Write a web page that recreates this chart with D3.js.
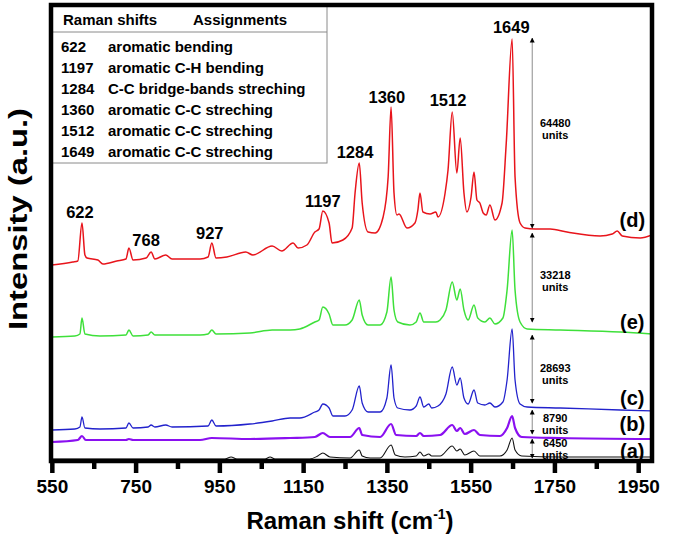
<!DOCTYPE html>
<html><head><meta charset="utf-8">
<script src="https://cdn.jsdelivr.net/npm/d3@7"></script>
<style>
body{margin:0;background:#fff}
svg{display:block}
text{font-family:"Liberation Sans",Arial,Helvetica,sans-serif;font-weight:bold;fill:#000}
</style>
</head><body>
<svg id="chart" width="675" height="538"></svg>
<script>
// ---------- data ----------
const majorTicks = [550, 750, 950, 1150, 1350, 1550, 1750, 1950];
const minorTicks = [650, 850, 1050, 1250, 1450, 1650, 1850];

const seriesNames  = ["(d)", "(e)", "(c)", "(b)", "(a)"];
const seriesColors = ["#e8141b", "#3ee03a", "#2222cc", "#8a10f0", "#111111"];
const seriesWidths = [1.5, 1.5, 1.3, 2.2, 1.1];

// [Raman shift (cm-1), intensity (a.u., stacked as plotted)]
const specD = [[550,196],[600,199],[612,200],[622,238],[629,206],[634,203],[660,201],[672,197],[705,200],[727,202],[734,213],[744,201],[775,203],[787,209],[796,202],[822,206],[837,202],[904,202],[923,204],[932,218],[942,203],[968,204],[1013,209],[1030,206],[1076,215],[1099,210],[1126,218],[1138,213],[1159,216],[1178,229],[1188,232],[1197,250],[1212,238],[1219,218],[1245,221],[1267,233],[1274,268],[1284,298],[1291,258],[1305,229],[1322,228],[1341,244],[1353,284],[1360,354],[1367,268],[1374,246],[1379,247],[1398,233],[1417,238],[1424,251],[1429,268],[1436,249],[1453,247],[1467,249],[1472,244],[1489,268],[1496,291],[1506,349],[1517,288],[1525,323],[1534,268],[1541,249],[1551,264],[1558,289],[1565,261],[1572,258],[1580,248],[1587,246],[1596,256],[1608,241],[1625,258],[1635,318],[1649,422],[1656,284],[1668,238],[1680,233],[1704,232],[1740,232],[1780,229],[1859,225],[1888,227],[1900,230],[1912,225],[1955,223],[1983,226]];

const specE = [[550,124],[605,125],[617,127],[622,143],[629,127],[665,125],[727,126],[734,131],[744,125],[780,126],[787,129],[796,126],[904,126],[923,127],[932,131],[942,127],[1023,128],[1076,131],[1119,131],[1142,132],[1178,139],[1188,141],[1197,154],[1212,147],[1221,136],[1250,136],[1267,141],[1284,161],[1291,146],[1305,136],[1334,136],[1350,149],[1360,184],[1367,151],[1376,139],[1405,136],[1420,139],[1429,148],[1438,139],[1467,139],[1477,141],[1491,151],[1506,179],[1517,161],[1525,172],[1534,151],[1544,141],[1558,156],[1567,143],[1584,139],[1596,143],[1608,137],[1627,143],[1637,171],[1649,231],[1656,171],[1668,139],[1685,132],[1764,131],[1907,129],[1983,127]];

const specC = [[550,31],[605,32],[617,34],[622,44],[629,33],[665,32],[727,33],[734,38],[744,33],[780,34],[787,36],[796,34],[822,36],[837,34],[923,35],[932,41],[942,35],[1023,37],[1076,40],[1119,43],[1142,43],[1178,49],[1188,51],[1197,57],[1212,53],[1221,45],[1250,45],[1267,51],[1284,75],[1291,58],[1305,49],[1334,49],[1350,63],[1360,96],[1367,63],[1376,53],[1405,51],[1420,55],[1429,64],[1438,54],[1450,57],[1457,53],[1472,55],[1491,67],[1506,94],[1517,76],[1525,83],[1534,63],[1544,57],[1558,71],[1567,58],[1584,56],[1596,58],[1608,54],[1627,59],[1637,81],[1649,132],[1656,81],[1668,57],[1685,54],[1764,53],[1907,51],[1983,50]];

const specB = [[550,19],[612,21],[622,25],[631,21],[727,21],[734,22],[744,21],[904,21],[932,23],[1023,22],[1119,23],[1178,24],[1197,28],[1214,24],[1262,24],[1284,33],[1291,26],[1334,24],[1360,37],[1372,26],[1420,25],[1429,28],[1438,25],[1477,26],[1506,36],[1517,30],[1525,33],[1536,27],[1558,31],[1572,26],[1620,25],[1637,33],[1649,45],[1656,33],[1672,24],[1764,23],[1983,22]];

const specA = [[550,2],[904,2],[963,2],[978,4],[992,2],[1059,2],[1071,4],[1083,2],[1166,2],[1185,5],[1197,8],[1214,4],[1262,3],[1284,11],[1291,5],[1310,3],[1334,3],[1360,16],[1370,6],[1393,4],[1420,5],[1429,9],[1438,5],[1450,7],[1457,5],[1477,5],[1506,15],[1517,10],[1525,12],[1536,6],[1558,10],[1572,5],[1620,5],[1637,11],[1649,23],[1656,11],[1672,5],[1764,4],[1983,4]];

const allSpectra = [specD, specE, specC, specB, specA];

// series label anchor [shift, intensity]
const seriesLabelPos = [[1936,241],[1936,139],[1936,63],[1936,37],[1936,10]];

// peak labels: text, shift, intensity
const peakText  = ["622", "768", "927", "1197", "1284", "1360", "1512", "1649"];
const peakShift = [617, 775, 927, 1197, 1274, 1350, 1496, 1647];
const peakInten = [249, 221, 228, 260, 309, 364, 361, 434];

// height annotations
const annotText = ["64480", "33218", "28693", "8790", "6450"];
const annotFrom = [233, 139, 58, 27, 3];
const annotTo   = [423, 228, 126, 51, 22];
const annotTextY = [338, 186, 93, 43, 18];
const annotShift = 1697;
const annotTextShift = 1752;

// table
const tableHeader = ["Raman shifts", "Assignments"];
const tableShifts = ["622", "1197", "1284", "1360", "1512", "1649"];
const tableAssign = ["aromatic bending", "aromatic C-H bending", "C-C bridge-bands streching",
                     "aromatic C-C streching", "aromatic C-C streching", "aromatic C-C streching"];

// ---------- drawing ----------
const svg = d3.select("#chart");
const pL = 51, pR = 652, pT = 5, pB = 461;
const x = d3.scaleLinear().domain([548, 1983]).range([pL, pR]);
const y = d3.scaleLinear().domain([0, 456]).range([pB, pT]);

const defs = svg.append("defs");
defs.append("clipPath").attr("id", "clip")
  .append("rect").attr("x", pL).attr("y", pT).attr("width", pR - pL).attr("height", pB - pT);

const line = d3.line().x(d => x(d[0])).y(d => y(d[1])).curve(d3.curveMonotoneX);

const gLines = svg.append("g").attr("clip-path", "url(#clip)");
allSpectra.forEach((s, i) => {
  gLines.append("path").attr("d", line(s)).attr("fill", "none")
    .attr("stroke", seriesColors[i]).attr("stroke-width", seriesWidths[i]).attr("stroke-linejoin", "round");
});

// table
const tg = svg.append("g");
tg.append("rect").attr("x", pL).attr("y", pT).attr("width", 327 - pL).attr("height", 163 - pT)
  .attr("fill", "#fff").attr("stroke", "#8a8a8a").attr("stroke-width", 1);
tg.append("line").attr("x1", pL).attr("x2", 327).attr("y1", 32).attr("y2", 32).attr("stroke", "#8a8a8a").attr("stroke-width", 1);
tg.append("text").attr("x", 63).attr("y", 25).attr("font-size", 15).text(tableHeader[0]);
tg.append("text").attr("x", 193).attr("y", 25).attr("font-size", 15).text(tableHeader[1]);
tableShifts.forEach((s, i) => {
  const yy = 52 + i * 21;
  tg.append("text").attr("x", 61).attr("y", yy).attr("font-size", 15).text(s);
  tg.append("text").attr("x", 108).attr("y", yy).attr("font-size", 15).text(tableAssign[i]);
});

// frame
svg.append("rect").attr("x", pL).attr("y", pT).attr("width", pR - pL).attr("height", pB - pT)
  .attr("fill", "none").attr("stroke", "#000").attr("stroke-width", 4.5);

// axes
const ax = svg.append("g").attr("transform", `translate(0,${pB})`)
  .call(d3.axisBottom(x).tickValues(majorTicks).tickSize(12).tickPadding(7).tickFormat(d3.format("d")));
ax.select(".domain").remove();
ax.selectAll(".tick line").attr("stroke", "#000").attr("stroke-width", 4.5);
ax.selectAll(".tick text").attr("font-size", 19).style("font-family", "'Liberation Sans',Arial,sans-serif").style("font-weight", "bold");

const axm = svg.append("g").attr("transform", `translate(0,${pB})`)
  .call(d3.axisBottom(x).tickValues(minorTicks).tickSize(8).tickFormat(""));
axm.select(".domain").remove();
axm.selectAll(".tick line").attr("stroke", "#000").attr("stroke-width", 4.5);

// axis titles
const xt = svg.append("text").attr("x", 350).attr("y", 529).attr("text-anchor", "middle").attr("font-size", 24);
xt.append("tspan").text("Raman shift (cm");
xt.append("tspan").attr("font-size", 14).attr("dy", -10).text("-1");
xt.append("tspan").attr("dy", 10).text(")");

svg.append("text").attr("transform", "translate(27,219) rotate(-90)").attr("text-anchor", "middle")
  .attr("font-size", 26).attr("textLength", 222).attr("lengthAdjust", "spacingAndGlyphs").text("Intensity (a.u.)");

// peak labels
peakText.forEach((t, i) => {
  svg.append("text").attr("x", x(peakShift[i])).attr("y", y(peakInten[i])).attr("dy", "0.36em")
    .attr("text-anchor", "middle").attr("font-size", 16.5).text(t);
});

// series labels
seriesNames.forEach((n, i) => {
  svg.append("text").attr("x", x(seriesLabelPos[i][0])).attr("y", y(seriesLabelPos[i][1])).attr("dy", "0.36em")
    .attr("text-anchor", "middle").attr("font-size", 20).text(n);
});

// height annotations
defs.append("marker").attr("id", "ah").attr("viewBox", "0 0 10 10").attr("refX", 9).attr("refY", 5)
  .attr("markerWidth", 5).attr("markerHeight", 6).attr("markerUnits", "userSpaceOnUse").attr("orient", "auto-start-reverse")
  .append("path").attr("d", "M0,0 L10,5 L0,10 z").attr("fill", "#000");
annotText.forEach((t, i) => {
  svg.append("line").attr("x1", x(annotShift)).attr("x2", x(annotShift))
    .attr("y1", y(annotFrom[i])).attr("y2", y(annotTo[i]))
    .attr("stroke", "#8c8c8c").attr("stroke-width", 1)
    .attr("marker-start", "url(#ah)").attr("marker-end", "url(#ah)");
  svg.append("text").attr("x", x(annotTextShift)).attr("y", y(annotTextY[i])).attr("dy", "0.36em")
    .attr("text-anchor", "middle").attr("font-size", 11).text(t);
  svg.append("text").attr("x", x(annotTextShift)).attr("y", y(annotTextY[i]) + 12).attr("dy", "0.36em")
    .attr("text-anchor", "middle").attr("font-size", 11).text("units");
});
</script>
</body></html>
